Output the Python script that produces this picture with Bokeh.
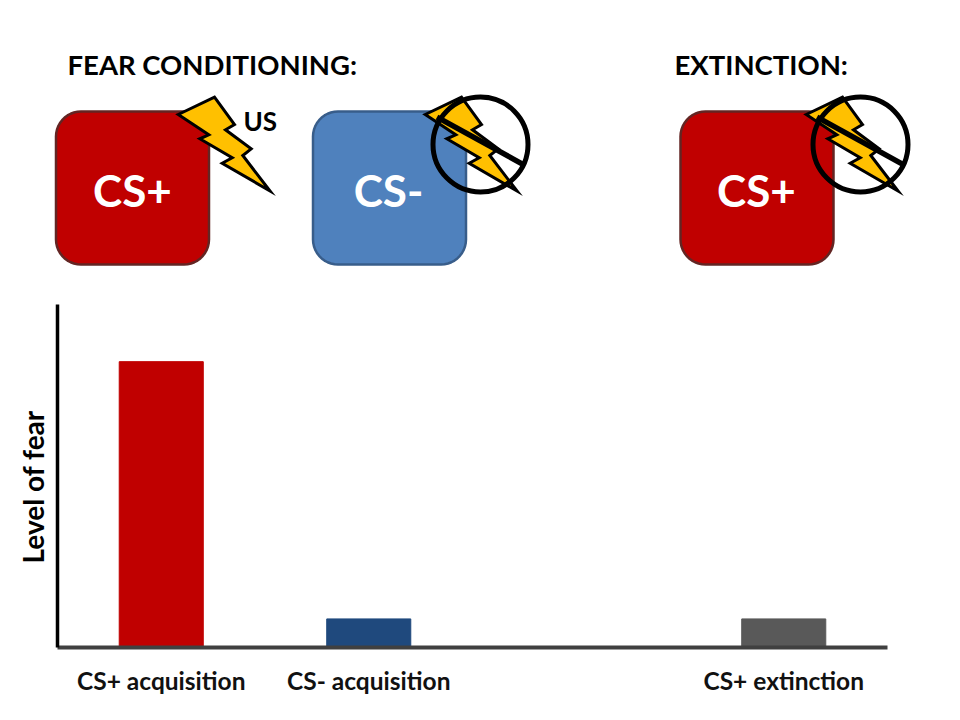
import math
import numpy as np
from bokeh.plotting import figure
from bokeh.models import Range1d, FactorRange, Title
from bokeh.core.properties import value
from bokeh.embed import file_html
from bokeh.resources import INLINE

# --- chart data ---
categories = ["CS+ acquisition", "CS- acquisition", " ", "CS+ extinction"]
bar_categories = ["CS+ acquisition", "CS- acquisition", "CS+ extinction"]
fear_level = [10.0, 1.0, 1.0]
bar_colors = ["#C00000", "#1F497D", "#595959"]

# --- schematic (page pixels) ---
FONT = "Lato"
box_lefts = [55.5, 312.5, 680]
box_fills = ["#C00000", "#4F81BD", "#C00000"]
box_edges = ["#632523", "#385D8A", "#632523"]
box_labels = ["CS+", "CS-", "CS+"]
box_label_x = [132, 388, 756]
bolt_x = [177.7, 214, 234, 225, 250.7, 242.3, 269.5, 221.7, 231.7, 199.3, 208.3]
bolt_y = [114, 96.7, 124, 129.3, 148.3, 155, 190.5, 162.7, 157.3, 138.3, 134.3]
bolt_shifts = [0, 247, 628]
no_centers_x = [480, 860]
no_center_y = 144


def rounded_square(left, top, size, r):
    xs, ys = [], []
    corners = [(left + size - r, top + r, -90), (left + size - r, top + size - r, 0),
               (left + r, top + size - r, 90), (left + r, top + r, 180)]
    for cx, cy, start in corners:
        for a in np.linspace(start, start + 90, 12):
            xs.append(cx + r * math.cos(math.radians(a)))
            ys.append(cy + r * math.sin(math.radians(a)))
    return xs, ys


top = figure(width=960, height=298, x_range=Range1d(0, 960), y_range=Range1d(298, 0),
             output_backend="svg", toolbar_location=None, min_border=0)
top.xaxis.visible = False
top.yaxis.visible = False
top.grid.visible = False
top.outline_line_color = None

for left, fill, edge in zip(box_lefts, box_fills, box_edges):
    xs, ys = rounded_square(left, 111, 153, 25)
    top.patch(xs, ys, fill_color=fill, line_color=edge, line_width=2.5)

for shift in bolt_shifts:
    top.patch([x + shift for x in bolt_x], bolt_y, fill_color="#FFC000",
              line_color="black", line_width=3, line_join="miter")

for cx in no_centers_x:
    top.circle([cx], [no_center_y], radius=47.5, fill_color=None, line_color="black", line_width=5)
    top.line([cx - 43.5, cx + 41.5], [116.7, 163.3], line_color="black", line_width=5.5)

top.text(box_label_x, [189] * 3, text=box_labels, text_color="white", text_align="center",
         text_baseline="middle", text_font=value(FONT), text_font_style="bold", text_font_size="44px")
top.text([67, 674], [63.5, 63.5], text=["FEAR CONDITIONING:", "EXTINCTION:"], text_color="black",
         text_align="left", text_baseline="middle", text_font=value(FONT),
         text_font_style="bold", text_font_size="27.5px")
top.text([243], [120.5], text=["US"], text_color="black", text_align="left", text_baseline="middle",
         text_font=value(FONT), text_font_style="bold", text_font_size="26px")

# --- bar chart ---
p = figure(width=960, height=415, x_range=FactorRange(factors=categories, range_padding=0),
           y_range=Range1d(0, 12), output_backend="svg", toolbar_location=None,
           min_border_left=57, min_border_right=73, min_border_top=6, min_border_bottom=66)
p.vbar(x=bar_categories, top=fear_level, width=0.405, color=bar_colors)
p.grid.visible = False
p.outline_line_color = None

p.xaxis.axis_line_color = "#404040"
p.xaxis.axis_line_width = 4
p.xaxis.major_tick_line_color = None
p.xaxis.minor_tick_line_color = None
p.xaxis.major_label_text_font = FONT
p.xaxis.major_label_text_font_style = "bold"
p.xaxis.major_label_text_font_size = "24.5px"
p.xaxis.major_label_text_color = "#111111"
p.xaxis.major_label_standoff = 12
p.xaxis.major_label_orientation = "horizontal"

p.yaxis.axis_line_color = "black"
p.yaxis.axis_line_width = 3.5
p.yaxis.major_tick_line_color = None
p.yaxis.minor_tick_line_color = None
p.yaxis.major_label_text_font_size = "0px"
p.yaxis.major_label_text_color = None

p.add_layout(Title(text="Level of fear", align="left", offset=84, standoff=4,
                   text_font=FONT, text_font_style="bold", text_font_size="28px",
                   text_color="black"), "left")

open("out.html", "w").write(file_html([top, p], INLINE))
